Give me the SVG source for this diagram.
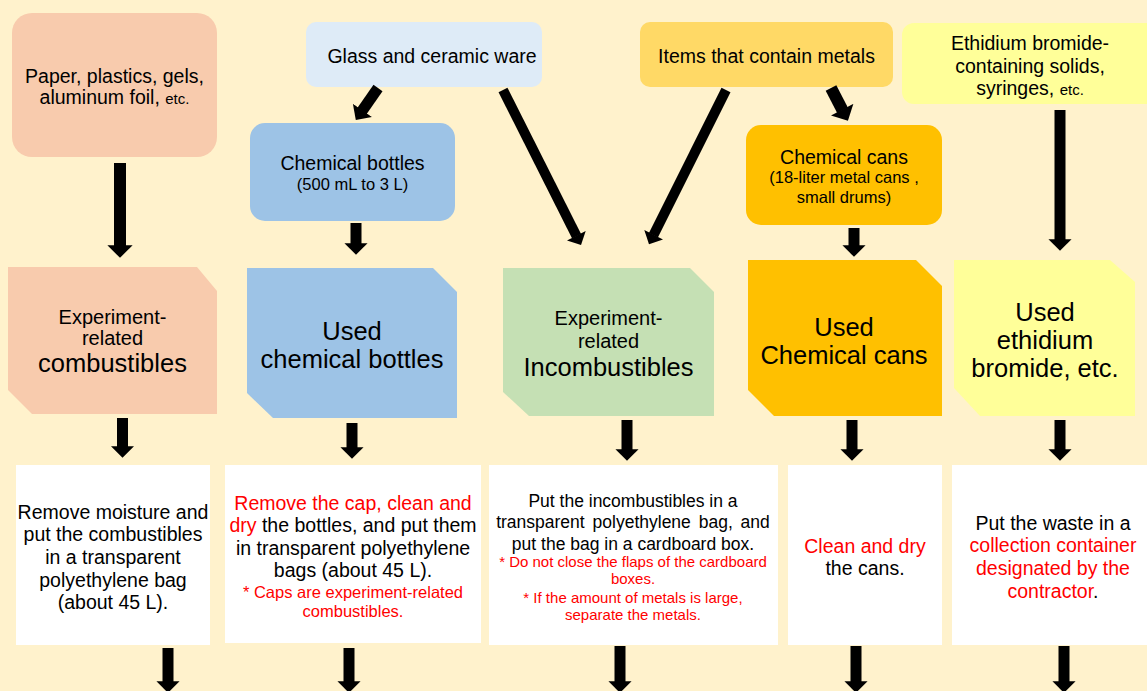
<svg xmlns="http://www.w3.org/2000/svg" width="1147" height="691" viewBox="0 0 1147 691">
<defs>
<marker id="ah" viewBox="0 0 5 10" refX="0.3" refY="5" markerWidth="1.1" markerHeight="2.1" orient="auto" markerUnits="strokeWidth">
<path d="M0,0 L5,5 L0,10 z" fill="#000"/>
</marker>
<style>
text{font-family:"Liberation Sans",Arial,sans-serif;fill:#000;text-anchor:middle}
.t{font-size:19.5px}
.s{font-size:16.5px}
.e{font-size:15px}
.b{font-size:25.5px}
.m{font-size:20px}
.r{fill:#FF0000}
.w{fill:#FFFFFF}
.arr line{stroke:#000;stroke-width:11;marker-end:url(#ah)}
</style>
</defs>
<rect width="1147" height="691" fill="#FFF2CC"/>

<g id="n-paper"><rect x="12" y="13" width="205" height="144" rx="20" fill="#F8CBAD"/>
<text class="t" x="114.5" y="83">Paper, plastics, gels,</text>
<text class="t" x="114.5" y="104">aluminum foil, <tspan class="e">etc.</tspan></text></g>

<g id="n-glass"><rect x="306" y="22" width="236" height="65" rx="10" fill="#DEEBF7"/>
<text class="t" x="432" y="63">Glass and ceramic ware</text></g>

<g id="n-bottles"><rect x="250" y="123" width="205" height="98" rx="15" fill="#9DC3E6"/>
<text class="t" x="352.5" y="170">Chemical bottles</text>
<text class="s" x="352.5" y="190">(500 mL to 3 L)</text></g>

<g id="n-metals"><rect x="640" y="22" width="253" height="65" rx="10" fill="#FFD966"/>
<text class="t" x="766.5" y="63">Items that contain metals</text></g>

<g id="n-cans"><rect x="746" y="125" width="196" height="100" rx="15" fill="#FFC000"/>
<text class="t" x="844" y="164">Chemical cans</text>
<text class="s" x="844" y="183">(18-liter metal cans ,</text>
<text class="s" x="844" y="203">small drums)</text></g>

<g id="n-ethidium"><rect x="902" y="23" width="260" height="81" rx="12" fill="#FFFF99"/>
<text class="t" x="1030" y="50">Ethidium bromide-</text>
<text class="t" x="1030" y="73">containing solids,</text>
<text class="t" x="1030" y="95">syringes, <tspan class="e">etc.</tspan></text></g>

<g id="n-combustibles"><polygon points="8,267 197,267 217,291 217,414 32,414 8,390" fill="#F8CBAD"/>
<text class="m" x="112.5" y="324">Experiment-</text>
<text class="m" x="112.5" y="345">related</text>
<text class="b" x="112.5" y="372">combustibles</text></g>

<g id="n-usedbottles"><polygon points="247,268 433,268 457,292 457,418 273,418 247,393" fill="#9DC3E6"/>
<text class="b" x="352" y="340">Used</text>
<text class="b" x="352" y="368">chemical bottles</text></g>

<g id="n-incombustibles"><polygon points="503,268 690,268 714,292 714,416 529,416 503,392" fill="#C5E0B4"/>
<text class="m" x="608.5" y="325">Experiment-</text>
<text class="m" x="608.5" y="348">related</text>
<text class="b" x="608.5" y="376">Incombustibles</text></g>

<g id="n-usedcans"><polygon points="748,260 916,260 942,286 942,416 774,416 748,390" fill="#FFC000"/>
<text class="b" x="844" y="336">Used</text>
<text class="b" x="844" y="364">Chemical cans</text></g>

<g id="n-usedethidium"><polygon points="954,260 1110,260 1135,282 1135,416 980,416 954,388" fill="#FFFF99"/>
<text class="b" x="1045" y="321">Used</text>
<text class="b" x="1045" y="349">ethidium</text>
<text class="b" x="1045" y="377">bromide, etc.</text></g>

<g id="n-step1"><rect x="16" y="465" width="194" height="180" class="w"/>
<text class="t" x="113" y="519">Remove moisture and</text>
<text class="t" x="113" y="541">put the combustibles</text>
<text class="t" x="113" y="564">in a transparent</text>
<text class="t" x="113" y="587">polyethylene bag</text>
<text class="t" x="113" y="609">(about 45 L).</text></g>

<g id="n-step2"><rect x="225" y="465" width="256" height="178" class="w"/>
<text class="t r" x="353" y="510">Remove the cap, clean and</text>
<text class="t" x="353" y="532"><tspan class="r">dry</tspan> the bottles, and put them</text>
<text class="t" x="353" y="555">in transparent polyethylene</text>
<text class="t" x="353" y="577">bags (about 45 L).</text>
<text class="s r" x="353" y="598">* Caps are experiment-related</text>
<text class="s r" x="353" y="617">combustibles.</text></g>

<g id="n-step3"><rect x="489" y="465" width="289" height="180" class="w"/>
<text x="633" y="506.5" font-size="17.5">Put the incombustibles  in a</text>
<text x="633" y="528" font-size="17.5" word-spacing="3">transparent polyethylene bag, and</text>
<text x="633" y="550" font-size="17.5">put the bag in a cardboard box.</text>
<text class="r" x="633" y="566.5" font-size="15">* Do not close the flaps of the cardboard</text>
<text class="r" x="633" y="583.5" font-size="15">boxes.</text>
<text class="r" x="633" y="602.5" font-size="15">* If the amount of metals is large,</text>
<text class="r" x="633" y="619.5" font-size="15">separate the metals.</text></g>

<g id="n-step4"><rect x="788" y="465" width="154" height="180" class="w"/>
<text class="t r" x="865" y="553">Clean and dry</text>
<text class="t" x="865" y="575">the cans.</text></g>

<g id="n-step5"><rect x="952" y="465" width="210" height="180" class="w"/>
<text class="t" x="1053" y="530">Put the waste in a</text>
<text class="t r" x="1053" y="552">collection container</text>
<text class="t r" x="1053" y="575">designated by the</text>
<text class="t" x="1053" y="598"><tspan class="r">contractor</tspan>.</text></g>

<g id="connectors" class="arr">
<line x1="120" y1="163" x2="120" y2="246" style="stroke-width:12"/>
<line x1="378" y1="88" x2="362" y2="111"/>
<line x1="356" y1="223" x2="356" y2="244"/>
<line x1="503" y1="90" x2="576.6" y2="236.3" style="stroke-width:10"/>
<line x1="726" y1="90" x2="653.4" y2="235.3" style="stroke-width:10"/>
<line x1="831" y1="88" x2="842.5" y2="110.3" style="stroke-width:12"/>
<line x1="854" y1="228" x2="854" y2="246"/>
<line x1="1060" y1="110" x2="1060" y2="240"/>
<line x1="122.5" y1="418" x2="122.5" y2="447"/>
<line x1="352" y1="423" x2="352" y2="448"/>
<line x1="627" y1="420" x2="627" y2="450"/>
<line x1="852" y1="420" x2="852" y2="450"/>
<line x1="1060" y1="420" x2="1060" y2="450"/>
<line x1="168" y1="648" x2="168" y2="682"/>
<line x1="349" y1="648" x2="349" y2="682"/>
<line x1="620" y1="646" x2="620" y2="682"/>
<line x1="856" y1="646" x2="856" y2="682"/>
<line x1="1064" y1="646" x2="1064" y2="682"/>
</g>
</svg>
